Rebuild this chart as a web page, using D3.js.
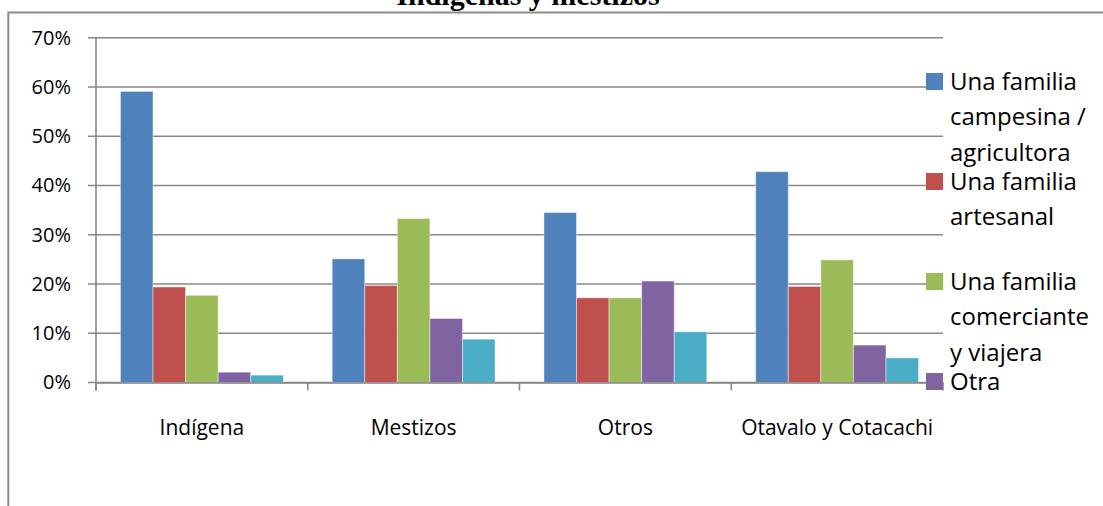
<!DOCTYPE html>
<html>
<head>
<meta charset="utf-8">
<script src="https://cdn.jsdelivr.net/npm/d3@7"></script>
<style>
  html, body { margin: 0; padding: 0; background: #fff; }
  svg { display: block; }
</style>
</head>
<body>
<div id="chart"></div>
<script>
// Datos del gráfico
const categories = ["Indígena", "Mestizos", "Otros", "Otavalo y Cotacachi"];
const seriesNames = [
  "Una familia campesina / agricultora",
  "Una familia artesanal",
  "Una familia comerciante y viajera",
  "Otra",
  "Sin respuesta"
];
const campesina = [0.591, 0.251, 0.345, 0.428];
const artesanal = [0.194, 0.197, 0.172, 0.195];
const comerciante = [0.177, 0.333, 0.172, 0.249];
const otra = [0.021, 0.130, 0.206, 0.076];
const sinRespuesta = [0.015, 0.088, 0.103, 0.050];
const yTicks = [0, 0.1, 0.2, 0.3, 0.4, 0.5, 0.6, 0.7];
// Líneas de texto de la leyenda (solo las que se ven)
const legendLines = [
  ["Una familia", "campesina /", "agricultora"],
  ["Una familia", "artesanal"],
  ["Una familia", "comerciante", "y viajera"],
  ["Otra"]
];
const colors = ["#4f81bd", "#c0504d", "#9bbb59", "#8064a2", "#4bacc6"];

const values = [campesina, artesanal, comerciante, otra, sinRespuesta];

const W = 1103, H = 506;
const plot = { left: 96, right: 943, top: 37.7, bottom: 382.5 };
const gridColor = "#878787";
const fontFamily = "'Open Sans', sans-serif";

const svg = d3.select("#chart").append("svg")
  .attr("width", W).attr("height", H);

// Titulo (cortado arriba)
svg.append("text")
  .attr("x", 528).attr("y", 5)
  .attr("text-anchor", "middle")
  .attr("font-family", "'Liberation Serif', 'Times New Roman', serif")
  .attr("font-weight", "bold")
  .attr("font-size", "30px")
  .text("Indígenas y mestizos");

// Borde del área
svg.append("path")
  .attr("d", `M${W},12.5 H8.3 V${H}`)
  .attr("fill", "none")
  .attr("stroke", "#8c8c8c")
  .attr("stroke-width", 2);

// Escalas
const x0 = d3.scaleBand().domain(categories).range([plot.left, plot.right]).padding(0);
const x1 = d3.scaleBand().domain(d3.range(seriesNames.length))
  .range([0, x0.bandwidth()]).paddingInner(0).paddingOuter(0.75);
const y = d3.scaleLinear().domain([0, 0.7]).range([plot.bottom, plot.top]);

// Líneas de cuadrícula
svg.append("g")
  .selectAll("line")
  .data(yTicks)
  .join("line")
  .attr("x1", plot.left - 8).attr("x2", plot.right)
  .attr("y1", (d) => y(d)).attr("y2", (d) => y(d))
  .attr("stroke", gridColor)
  .attr("stroke-width", 1.6);

// Eje Y
const yAxis = svg.append("g")
  .attr("transform", `translate(${plot.left},0)`)
  .call(d3.axisLeft(y).tickValues(yTicks).tickSize(0).tickPadding(25)
    .tickFormat(d3.format(".0%")));
yAxis.select(".domain").remove();
yAxis.selectAll("text")
  .attr("font-family", fontFamily)
  .attr("font-size", "20px")
  .attr("fill", "#000");

svg.append("line")
  .attr("x1", plot.left).attr("x2", plot.left)
  .attr("y1", plot.top).attr("y2", plot.bottom + 8)
  .attr("stroke", gridColor).attr("stroke-width", 1.6);

// Barras
const groups = svg.append("g")
  .selectAll("g")
  .data(categories)
  .join("g")
  .attr("transform", (c) => `translate(${x0(c)},0)`);

groups.selectAll("rect")
  .data((c, i) => values.map((s, j) => ({ serie: j, value: s[i] })))
  .join("rect")
  .attr("x", (d) => x1(d.serie))
  .attr("y", (d) => y(d.value))
  .attr("width", x1.bandwidth())
  .attr("height", (d) => y(0) - y(d.value))
  .attr("fill", (d) => colors[d.serie])
  .attr("stroke", "rgba(255,255,255,0.45)")
  .attr("stroke-width", 1);

// Eje X
const xAxis = svg.append("g")
  .attr("transform", `translate(0,${plot.bottom})`)
  .call(d3.axisBottom(x0).tickSize(0).tickPadding(38));
xAxis.select(".domain")
  .attr("stroke", gridColor).attr("stroke-width", 1.6);
xAxis.selectAll("text")
  .attr("font-family", fontFamily)
  .attr("font-size", "21px")
  .attr("fill", "#000");

const bounds = categories.map((c) => x0(c)).concat([plot.right]);
svg.append("g")
  .selectAll("line")
  .data(bounds)
  .join("line")
  .attr("x1", (d) => d).attr("x2", (d) => d)
  .attr("y1", plot.bottom).attr("y2", plot.bottom + 8)
  .attr("stroke", gridColor).attr("stroke-width", 1.6);

// Leyenda
const legend = svg.append("g").attr("transform", "translate(926,73)");
const legendItem = legend.selectAll("g")
  .data(legendLines)
  .join("g")
  .attr("transform", (d, i) => `translate(0,${i * 100})`);

legendItem.append("rect")
  .attr("width", 17).attr("height", 17)
  .attr("fill", (d, i) => colors[i]);

legendItem.selectAll("text")
  .data((d) => d)
  .join("text")
  .attr("x", 24)
  .attr("y", (d, k) => 16.5 + k * 35.5)
  .attr("font-family", fontFamily)
  .attr("font-size", "24px")
  .attr("fill", "#000")
  .text((d) => d);
</script>
</body>
</html>
